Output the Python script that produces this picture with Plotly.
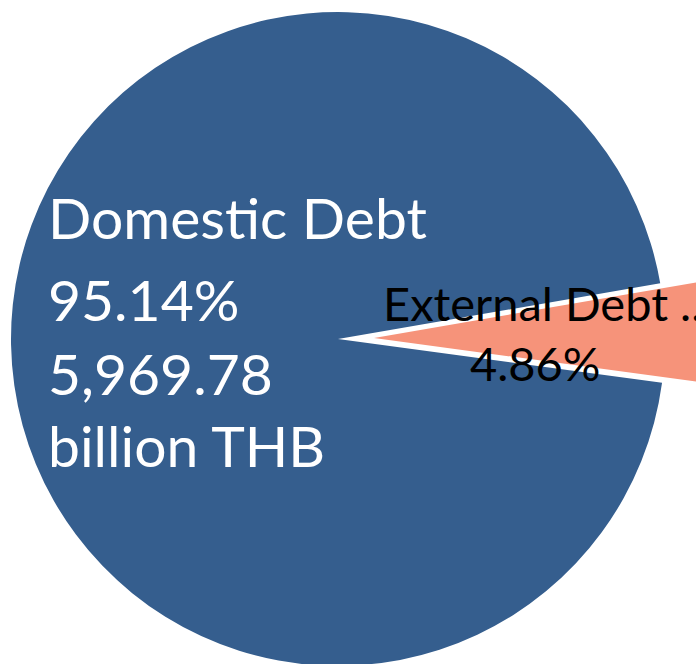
import plotly.graph_objects as go

# ---- data ----
labels = ["External Debt", "Domestic Debt"]
shares = [4.86, 95.14]            # percent
amount_domestic = "5,969.78"
unit = "billion THB"
colors = ["#F6937A", "#355E8E"]

# the figure is slightly larger than the 696x664 window; the overflow is clipped,
# just like the exploded slice in the reference runs off the right edge
W, H = 740, 670
FONT = "Lato"

rotation = 80.2  # external slice centred at ~3 o'clock


def dx(x0, x1):
    return [x0 / W, x1 / W]


def dy(y0, y1):  # pixel rows from top -> paper fraction
    return [1 - y1 / H, 1 - y0 / H]


fig = go.Figure()

# main pie (domestic slice visible, external slot left empty)
fig.add_trace(go.Pie(
    labels=labels, values=shares, sort=False, direction="clockwise",
    rotation=rotation,
    marker=dict(colors=["rgba(0,0,0,0)", colors[1]], line=dict(width=0)),
    textinfo="none", hoverinfo="skip", showlegend=False,
    domain=dict(x=dx(11, 665), y=dy(12, 666)),
))

# exploded external slice (same pie, shifted outward)
fig.add_trace(go.Pie(
    labels=labels, values=shares, sort=False, direction="clockwise",
    rotation=rotation,
    marker=dict(colors=[colors[0], "rgba(0,0,0,0)"], line=dict(width=0)),
    textinfo="none", hoverinfo="skip", showlegend=False,
    domain=dict(x=dx(47, 701), y=dy(11, 665)),
))


def px(x):
    return x / W


def py(y):
    return 1 - y / H


annotations = []
dom_lines = [labels[1], f"{shares[1]:.2f}%", amount_domestic, unit]
dom_mid_y = [217, 299, 373, 445]
for txt, y in zip(dom_lines, dom_mid_y):
    annotations.append(dict(
        x=px(46), y=py(y), xref="paper", yref="paper",
        xanchor="left", yanchor="middle", showarrow=False,
        text=txt, font=dict(family=FONT, size=57, color="white"),
    ))

annotations.append(dict(
    x=px(381), y=py(303), xref="paper", yref="paper",
    xanchor="left", yanchor="middle", showarrow=False,
    text=labels[0] + " ...", font=dict(family=FONT, size=47, color="black"),
))
annotations.append(dict(
    x=px(535), y=py(363), xref="paper", yref="paper",
    xanchor="center", yanchor="middle", showarrow=False,
    text=f"{shares[0]:.2f}%", font=dict(family=FONT, size=47, color="black"),
))

fig.update_layout(
    width=W, height=H,
    margin=dict(l=0, r=0, t=0, b=0),
    paper_bgcolor="white", plot_bgcolor="white",
    annotations=annotations,
)

fig.write_html(
    "out.html",
    config={"displayModeBar": False},
    post_script="document.body.style.margin='0';document.body.style.overflow='hidden';",
)
